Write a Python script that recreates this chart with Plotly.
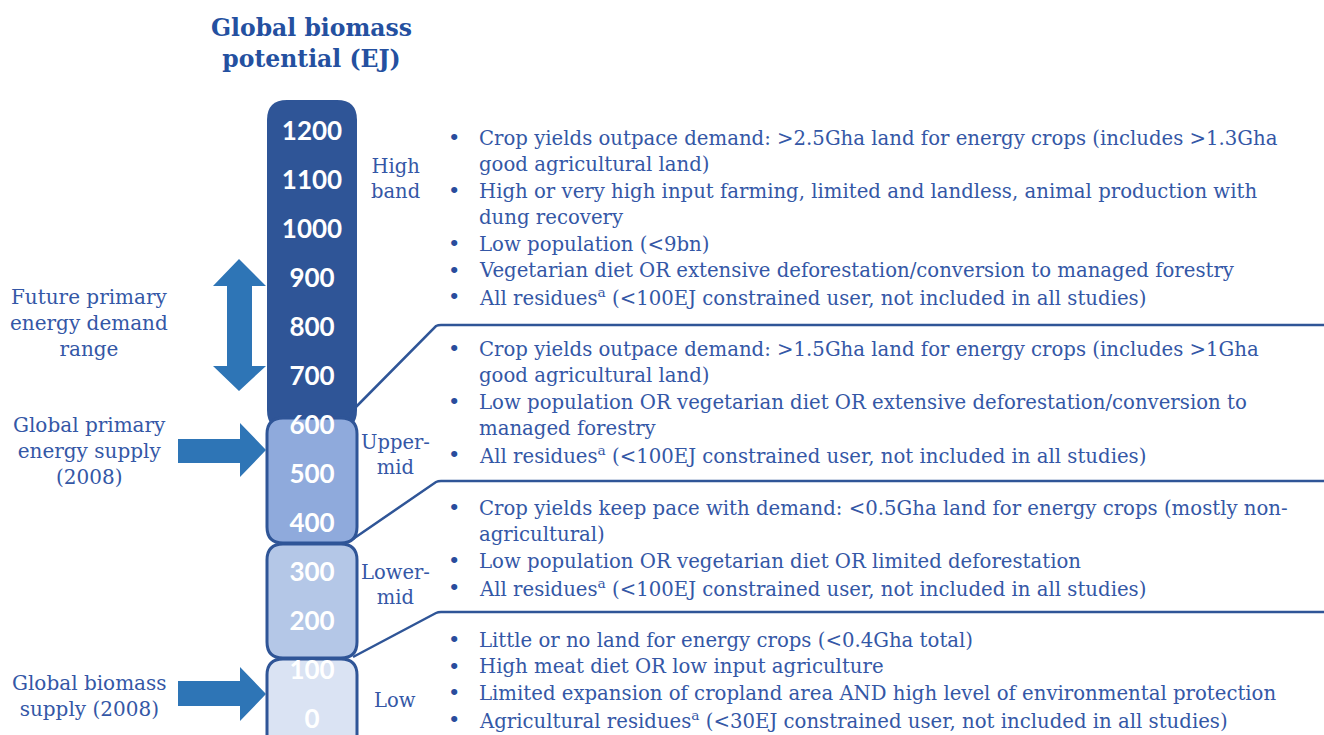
import plotly.graph_objects as go

# ---------------- data ----------------
tick_values = [1200, 1100, 1000, 900, 800, 700, 600, 500, 400, 300, 200, 100, 0]
tick_labels = [str(v) for v in tick_values]

band_names = ["High<br>band", "Upper-<br>mid", "Lower-<br>mid", "Low"]
band_colors = ["#2F5597", "#8FAADC", "#B4C7E7", "#DAE3F3"]

high_lines = [
    ("Crop yields outpace demand: >2.5Gha land for energy crops (includes >1.3Gha", True),
    ("good agricultural land)", False),
    ("High or very high input farming, limited and landless, animal production with", True),
    ("dung recovery", False),
    ("Low population (<9bn)", True),
    ("Vegetarian diet OR extensive deforestation/conversion to managed forestry", True),
    ("All residues<sup>a</sup> (<100EJ constrained user, not included in all studies)", True),
]
uppermid_lines = [
    ("Crop yields outpace demand: >1.5Gha land for energy crops (includes >1Gha", True),
    ("good agricultural land)", False),
    ("Low population OR vegetarian diet OR extensive deforestation/conversion to", True),
    ("managed forestry", False),
    ("All residues<sup>a</sup> (<100EJ constrained user, not included in all studies)", True),
]
lowermid_lines = [
    ("Crop yields keep pace with demand: <0.5Gha land for energy crops (mostly non-", True),
    ("agricultural)", False),
    ("Low population OR vegetarian diet OR limited deforestation", True),
    ("All residues<sup>a</sup> (<100EJ constrained user, not included in all studies)", True),
]
low_lines = [
    ("Little or no land for energy crops (<0.4Gha total)", True),
    ("High meat diet OR low input agriculture", True),
    ("Limited expansion of cropland area AND high level of environmental protection", True),
    ("Agricultural residues<sup>a</sup> (<30EJ constrained user, not included in all studies)", True),
]
band_bullets = [high_lines, uppermid_lines, lowermid_lines, low_lines]

side_labels = [
    "Future primary<br>energy demand<br>range",
    "Global primary<br>energy supply<br>(2008)",
    "Global biomass<br>supply (2008)",
]
title_text = "<b>Global biomass<br>potential (EJ)</b>"

# ---------------- layout constants (screen pixels) ----------------
W, H = 1324, 735
DARK = "#2F5597"
ARROW = "#2E75B6"
TXT = "#3457A6"
SERIF = "DejaVu Serif"

# EJ scale: px = PX_MID - K*(v - 600)
K = 0.4908
PX_MID = 427.5
ej_top = 600 + PX_MID / K
ej_bot = 600 - (H - PX_MID) / K

fig = go.Figure()

# tick numbers inside the column, placed on the EJ axis
fig.add_trace(go.Scatter(
    x=[312] * len(tick_values), y=tick_values, text=tick_labels, mode="text",
    textfont=dict(family="Lato", size=26, color="white", weight="bold"),
    textposition="middle center", hoverinfo="skip", showlegend=False,
))


def rrect(x0, y0, x1, y1, r):
    return (f"M {x0+r} {y0} L {x1-r} {y0} Q {x1} {y0} {x1} {y0+r} "
            f"L {x1} {y1-r} Q {x1} {y1} {x1-r} {y1} L {x0+r} {y1} "
            f"Q {x0} {y1} {x0} {y1-r} L {x0} {y0+r} Q {x0} {y0} {x0+r} {y0} Z")


shapes = []
box_px = [(100, 430, 20), (418, 543, 16), (544, 658, 16), (659, 770, 16)]
for i, (y0, y1, r) in enumerate(box_px):
    shapes.append(dict(type="path", path=rrect(267, y0, 357, y1, r), xref="x", yref="y2",
                       fillcolor=band_colors[i], line=dict(color=DARK, width=3 if i else 0),
                       layer="below"))

# connector lines
for p in ["M 350 413 L 436 326 Q 438 325 441 325 L 1330 325",
          "M 353 539 L 436 482 Q 438 481 441 481 L 1330 481",
          "M 353 657 L 436 613 Q 438 612 441 612 L 1330 612"]:
    shapes.append(dict(type="path", path=p, xref="x", yref="y2",
                       line=dict(color=DARK, width=2.5), layer="below"))

# arrows
arrow_paths = [
    "M 239 259 L 266 286 L 252 286 L 252 366 L 266 366 L 239 391 L 213 366 L 227 366 L 227 286 L 213 286 Z",
    "M 178 439 L 240 439 L 240 423 L 266 450 L 240 477 L 240 463 L 178 463 Z",
    "M 178 681 L 240 681 L 240 667 L 266 694 L 240 721 L 240 706 L 178 706 Z",
]
for p in arrow_paths:
    shapes.append(dict(type="path", path=p, xref="x", yref="y2",
                       fillcolor=ARROW, line=dict(width=0), layer="below"))

annotations = []
# title
annotations.append(dict(x=311, y=43, xref="x", yref="y2", text=title_text, showarrow=False,
                        font=dict(family=SERIF, size=23.5, color="#2450A0"),
                        xanchor="center", yanchor="middle", align="center"))

# side labels
side_pos = [(89, 323), (89, 451), (89, 696)]
for (x, y), t in zip(side_pos, side_labels):
    annotations.append(dict(x=x, y=y, xref="x", yref="y2", text=t, showarrow=False,
                            font=dict(family=SERIF, size=20, color=TXT),
                            xanchor="center", yanchor="middle", align="center"))

# band labels
band_label_pos = [(395, 179), (395, 455), (395, 585), (395, 700)]
for (x, y), t in zip(band_label_pos, band_names):
    annotations.append(dict(x=x, y=y, xref="x", yref="y2", text=t, showarrow=False,
                            font=dict(family=SERIF, size=19.5, color=TXT),
                            xanchor="center", yanchor="middle", align="center"))

# bullet text
block_start = [138, 349, 508, 640]
LINE = 26.5
for start, lines in zip(block_start, band_bullets):
    for j, (t, bullet) in enumerate(lines):
        y = start + j * LINE
        if bullet:
            annotations.append(dict(x=454, y=y, xref="x", yref="y2", text="•", showarrow=False,
                                    font=dict(family=SERIF, size=21, color="#2A4C9C"),
                                    xanchor="center", yanchor="middle"))
        annotations.append(dict(x=477, y=y, xref="x", yref="y2", text=t, showarrow=False,
                                font=dict(family=SERIF, size=19.7, color=TXT),
                                xanchor="left", yanchor="middle", align="left"))

fig.update_layout(
    width=W, height=H, margin=dict(l=0, r=0, t=0, b=0),
    paper_bgcolor="white", plot_bgcolor="white",
    xaxis=dict(range=[0, W], visible=False, fixedrange=True),
    yaxis=dict(range=[ej_bot, ej_top], visible=False, fixedrange=True),
    yaxis2=dict(range=[H, 0], visible=False, overlaying="y", fixedrange=True),
    shapes=shapes, annotations=annotations, showlegend=False,
)

fig.write_html(
    "out.html",
    config={"displayModeBar": False},
    post_script="document.body.style.margin='0';document.body.style.overflow='hidden';",
)
